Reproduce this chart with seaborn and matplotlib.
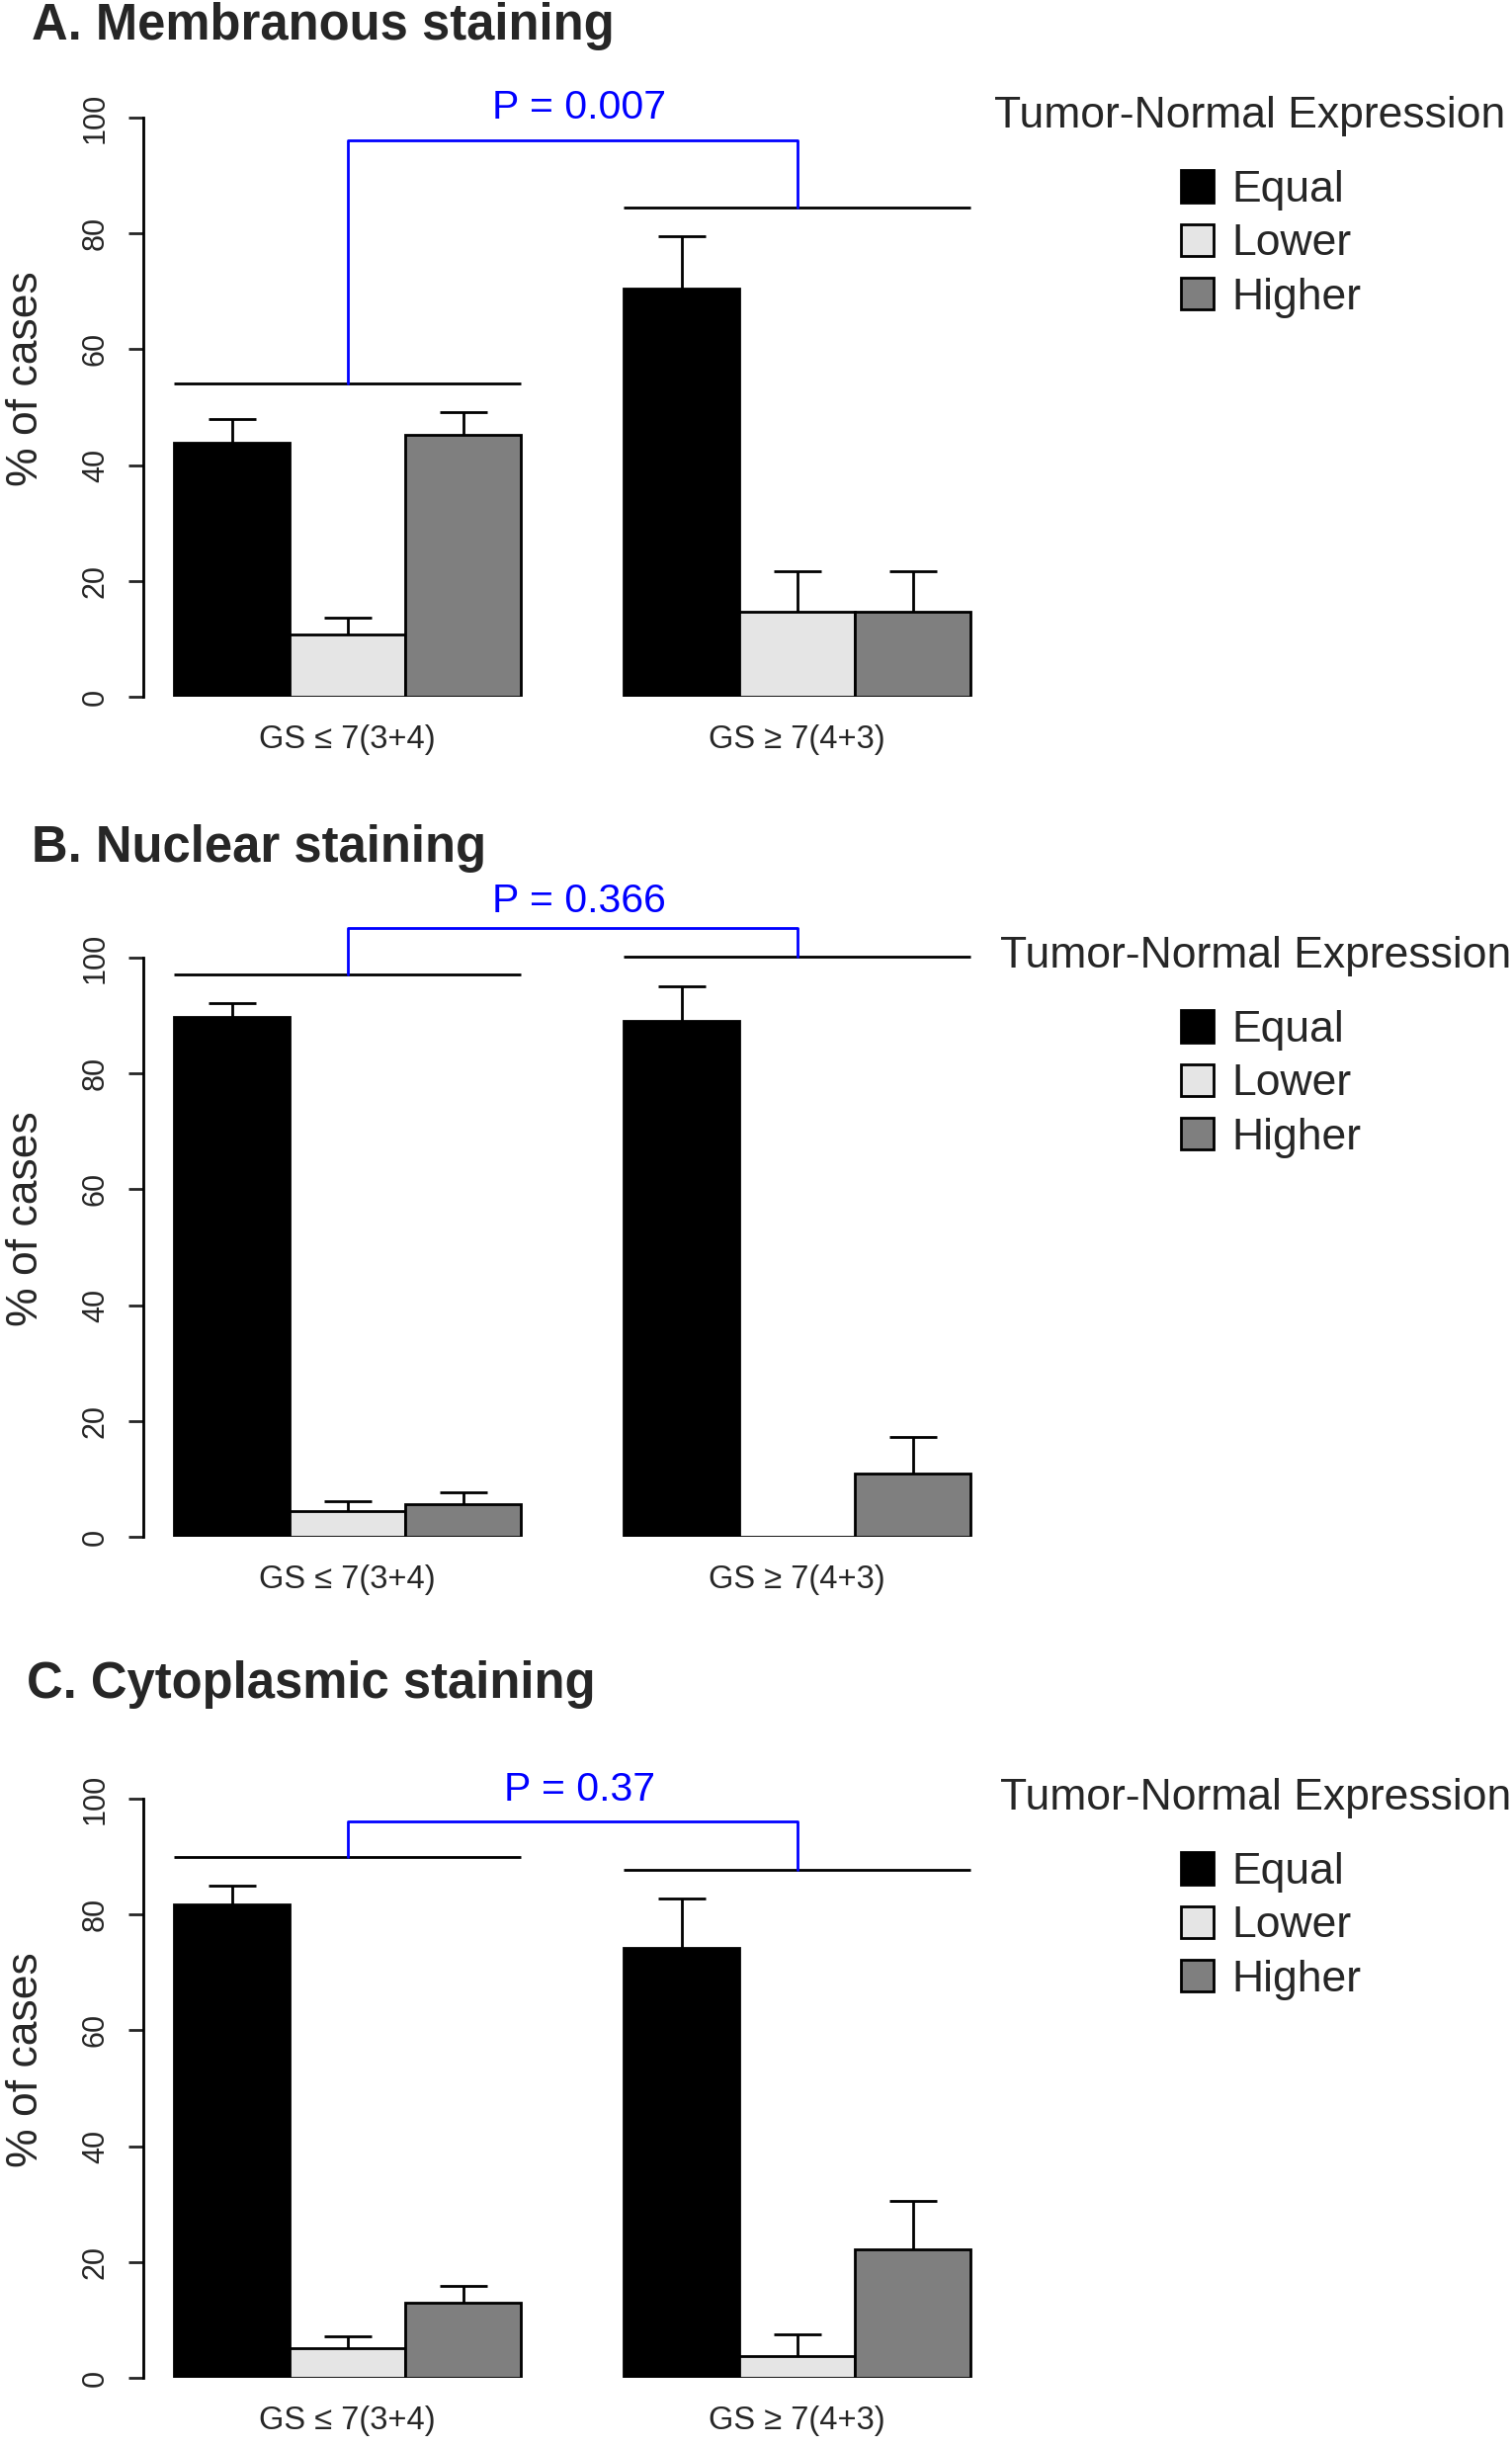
import pandas as pd
import seaborn as sns
import matplotlib.pyplot as plt

# categories and series
categories = ["GS \u2264 7(3+4)", "GS \u2265 7(4+3)"]
levels = ["Equal", "Lower", "Higher"]
level_colors = ["#000000", "#E5E5E5", "#7F7F7F"]

# bar heights per group (Equal, Lower, Higher) and top of the error bars
memb_means = [[43.9, 10.8, 45.2], [70.5, 14.6, 14.6]]
memb_tops = [[47.9, 13.6, 49.2], [79.5, 21.6, 21.6]]
nucl_means = [[89.7, 4.5, 5.6], [89.0, 0.0, 10.9]]
nucl_tops = [[92.2, 6.2, 7.6], [95.1, 0.0, 17.2]]
cyto_means = [[81.8, 5.1, 13.0], [74.2, 3.7, 22.2]]
cyto_tops = [[84.9, 7.2, 15.8], [82.8, 7.5, 30.5]]

# comparison brackets: group 1 line, group 2 line, blue top, p-value text height
memb_bracket = [54.1, 84.5, 96.0, 101.7]
nucl_bracket = [97.1, 100.1, 105.1, 109.8]
cyto_bracket = [89.9, 87.7, 96.0, 101.6]

panel_titles = ["A. Membranous staining", "B. Nuclear staining", "C. Cytoplasmic staining"]
p_labels = ["P = 0.007", "P = 0.366", "P = 0.37"]
legend_title = "Tumor-Normal Expression"
y_ticks = [0, 20, 40, 60, 80, 100]

sns.set_style("white")
plt.rcParams["font.family"] = ["Liberation Sans", "DejaVu Sans"]

W, H = 1530, 2476
fig = plt.figure(figsize=(W / 100, H / 100), dpi=100)

# layout in pixels: y of the zero line, title baseline/x, legend title y
panels = [
    dict(means=memb_means, tops=memb_tops, br=memb_bracket, zero=705, tb=40, tx=32, ly=117, lx=1006),
    dict(means=nucl_means, tops=nucl_tops, br=nucl_bracket, zero=1555, tb=872, tx=32, ly=967, lx=1012),
    dict(means=cyto_means, tops=cyto_tops, br=cyto_bracket, zero=2406, tb=1718, tx=27, ly=1819, lx=1012),
]

blue = "#0000FF"
xl = (-0.4544, 1.454)
unit_px = 455
for k, p in enumerate(panels):
    ax = fig.add_axes([145 / W, 1 - p["zero"] / H, (xl[1] - xl[0]) * unit_px / W, 586 / H])
    rows = []
    for g, cat in enumerate(categories):
        for j, lev in enumerate(levels):
            rows.append({"group": cat, "expr": lev, "value": p["means"][g][j]})
    df = pd.DataFrame(rows)
    sns.barplot(data=df, x="group", y="value", hue="expr", order=categories, hue_order=levels,
                palette=level_colors, width=0.771, edgecolor="black", linewidth=2,
                errorbar=None, ax=ax)
    handles, labels = ax.get_legend_handles_labels()
    if ax.get_legend() is not None:
        ax.get_legend().remove()

    # error bars (upper whisker only)
    for j, cont in enumerate(ax.containers):
        for g, bar in enumerate(cont.patches):
            cx = bar.get_x() + bar.get_width() / 2
            m = p["means"][g][j]
            t = p["tops"][g][j]
            if t > m:
                half = bar.get_width() * 0.205
                ax.vlines(cx, m, t, color="black", lw=2, zorder=4)
                ax.hlines(t, cx - half, cx + half, color="black", lw=2, zorder=4)

    # group brackets
    first = ax.containers[0].patches
    last = ax.containers[-1].patches
    mid = ax.containers[1].patches
    for g in range(2):
        x0 = first[g].get_x()
        x1 = last[g].get_x() + last[g].get_width()
        ax.hlines(p["br"][g], x0, x1, color="black", lw=2, clip_on=False)
    c0 = mid[0].get_x() + mid[0].get_width() / 2
    c1 = mid[1].get_x() + mid[1].get_width() / 2
    ax.plot([c0, c0, c1, c1], [p["br"][0], p["br"][2], p["br"][2], p["br"][1]],
            color=blue, lw=2, clip_on=False)
    ax.text((c0 + c1) / 2 + 0.015, p["br"][3], p_labels[k], color=blue, fontsize=29.5,
            ha="center", va="center", clip_on=False)

    ax.set_xlim(*xl)
    ax.set_ylim(0, 100)
    ax.set_yticks(y_ticks)
    ax.set_yticklabels([str(v) for v in y_ticks], rotation=90, va="center")
    ax.tick_params(axis="y", length=10.8, width=2, labelsize=22, pad=13, left=True)
    ax.tick_params(axis="x", length=0, labelsize=23.5, pad=20)
    ax.set_xlabel("")
    ax.set_ylabel("% of cases", fontsize=32, va="center")
    ax.yaxis.set_label_coords(-0.136, 0.55)
    for s in ["top", "right", "bottom"]:
        ax.spines[s].set_visible(False)
    ax.spines["left"].set_linewidth(2)
    ax.spines["left"].set_color("black")
    ax.spines["left"].set_bounds(0, 100)

    fig.text(p["tx"] / W, 1 - p["tb"] / H, panel_titles[k], fontsize=36.5, fontweight="bold",
             ha="left", va="baseline")
    fig.text(p["lx"] / W, 1 - p["ly"] / H, legend_title, fontsize=32, ha="left", va="center")
    fig.legend(handles, labels, loc="upper left",
               bbox_to_anchor=(1195 / W, 1 - (p["ly"] + 55) / H),
               frameon=False, fontsize=32, handlelength=0.75, handleheight=0.75,
               handletextpad=0.4, labelspacing=0.3, borderpad=0, borderaxespad=0)

fig.savefig("out.png", dpi=100)
